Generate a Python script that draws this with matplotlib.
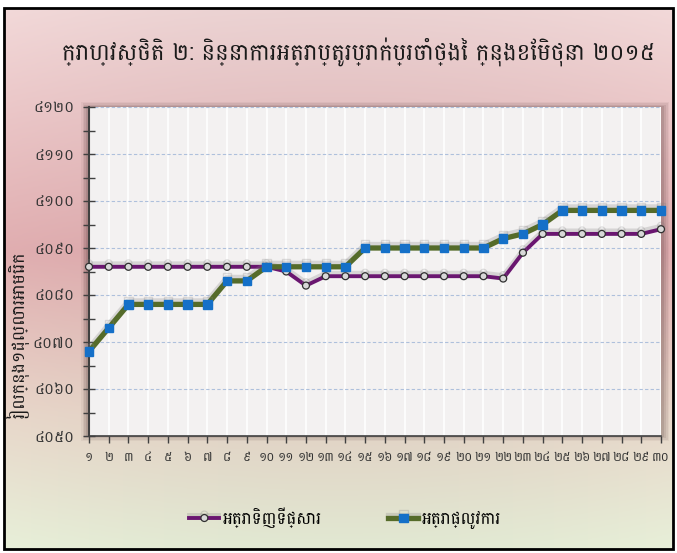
import numpy as np
import matplotlib

matplotlib.use("Agg")
import matplotlib.pyplot as plt
import matplotlib.patheffects as pe
from matplotlib.patches import Rectangle
from matplotlib.ticker import MultipleLocator

KHMER_FONT = ["Battambang", "DejaVu Sans"]
plt.rcParams["font.family"] = KHMER_FONT

TITLE = "ក្រាហ្វស្ថិតិ ២: និន្នាការអត្រាប្តូរប្រាក់ប្រចាំថ្ងៃ ក្នុងខែមិថុនា ២០១៥"
Y_LABEL = "រៀលក្នុង១ដុល្លារអាមេរិក"
SERIES_NAMES = ["អត្រាទិញទីផ្សារ", "អត្រាផ្លូវការ"]

days = list(range(1, 31))
market_rate = [4086] * 10 + [4085, 4082] + [4084] * 9 + [4083.5] + [4089] + [4093] * 6 + [4094]
official_rate = ([4068, 4073] + [4078] * 5 + [4083] * 2 + [4086] * 5 + [4090] * 7
                 + [4092, 4093, 4095] + [4098] * 6)
y_ticks = list(range(4050, 4121, 10))

KHMER_DIGITS = str.maketrans("0123456789", "០១២៣៤៥៦៧៨៩")


def khmer(number):
    return str(number).translate(KHMER_DIGITS)


x_labels = [khmer(d) for d in days]
y_labels = [khmer(v) for v in y_ticks]

W, H = 677, 553
fig = plt.figure(figsize=(W / 100, H / 100), dpi=100)

# background gradient inside the black frame
bg = fig.add_axes([0, 0, 1, 1], zorder=-10)
bg.set_axis_off()
rows = np.linspace(0, 1, 200)
stops = [0.0, 0.45, 0.75, 1.0]
cols = [(0.95, 0.85, 0.85), (0.88, 0.68, 0.69), (0.91, 0.84, 0.79), (0.91, 0.94, 0.85)]
img = np.zeros((200, 300, 3))
for c in range(3):
    vert = np.interp(rows, stops, [col[c] for col in cols])
    img[:, :, c] = vert[:, None]
xs = np.linspace(-1, 1, 300)[None, :]
img = np.clip(img * (1 - 0.03 * (1 - xs ** 2))[:, :, None], 0, 1)
x0, x1 = 4 / W, 673 / W
y0, y1 = 1 - 549 / H, 1 - 8 / H
bg.imshow(img, extent=[x0, x1, y0, y1], aspect="auto", origin="upper")
bg.set_xlim(0, 1)
bg.set_ylim(0, 1)
bg.add_patch(Rectangle((x0, y0), x1 - x0, y1 - y0, fill=False, ec="black", lw=2))

left, right = 89 / W, 661 / W
bottom, top = 1 - 436 / H, 1 - 107 / H

# soft shadow around plot area
for i, a in enumerate([0.05, 0.07, 0.09, 0.12]):
    pad = (4 - i) * 1.5 / W
    bg.add_patch(Rectangle((left - pad - 2 / W, bottom - pad), right - left + 2 * pad + 4 / W,
                           top - bottom + 2 * pad, fc="#3a2020", ec="none", alpha=a))

ax = fig.add_axes([left, bottom, right - left, top - bottom])
ax.set_facecolor("#f3f1f1")

shadow = [pe.SimpleLineShadow(offset=(0, 2.5), shadow_color="#808080", alpha=0.25),
          pe.Normal()]
ax.plot(days, market_rate, color="#6a1670", lw=2.8, marker="o", ms=5,
        mfc="#d8d8d8", mec="#303030", mew=0.9, clip_on=False, zorder=3,
        label=SERIES_NAMES[0], path_effects=shadow)
ax.plot(days, official_rate, color="#556b2a", lw=3.8, marker="s", ms=6,
        mfc="#1570c8", mec="#1570c8", clip_on=False, zorder=4,
        label=SERIES_NAMES[1], path_effects=shadow)

ax.set_xlim(1, 30)
ax.set_ylim(4050, 4120)
ax.set_xticks(days)
ax.set_xticklabels(x_labels, fontsize=9, color="#333333")
ax.set_yticks(y_ticks)
ax.set_yticklabels(y_labels, fontsize=11, color="#333333")
ax.yaxis.set_minor_locator(MultipleLocator(5))
ax.tick_params(axis="y", which="both", direction="inout", length=9, width=1, color="#404040", pad=6)
ax.tick_params(axis="x", direction="out", length=5, width=1, color="#404040", pad=6)

ax.grid(axis="y", which="major", color="#aec0dc", lw=0.8, ls=(0, (3, 2)))
ax.grid(axis="x", color="white", lw=1.2)
ax.set_axisbelow(True)
for side in ("top", "right"):
    ax.spines[side].set_visible(False)
ax.spines["left"].set_color("#404040")
ax.spines["left"].set_linewidth(1.5)
ax.spines["bottom"].set_color("#404040")
ax.spines["bottom"].set_linewidth(1.2)

fig.text(0.53, 1 - 52 / H, TITLE, ha="center", va="center", fontsize=16.5, color="#1a1a1a")
fig.text(18 / W, 1 - 335 / H, Y_LABEL, rotation=90, ha="center", va="center",
         fontsize=12.5, color="#1a1a1a")

fig.legend(loc="center", bbox_to_anchor=(0.51, 1 - 518 / H), ncol=2, frameon=False,
           fontsize=12, handlelength=1.8, columnspacing=4, handletextpad=0.2)

fig.savefig("out.png", dpi=100)
